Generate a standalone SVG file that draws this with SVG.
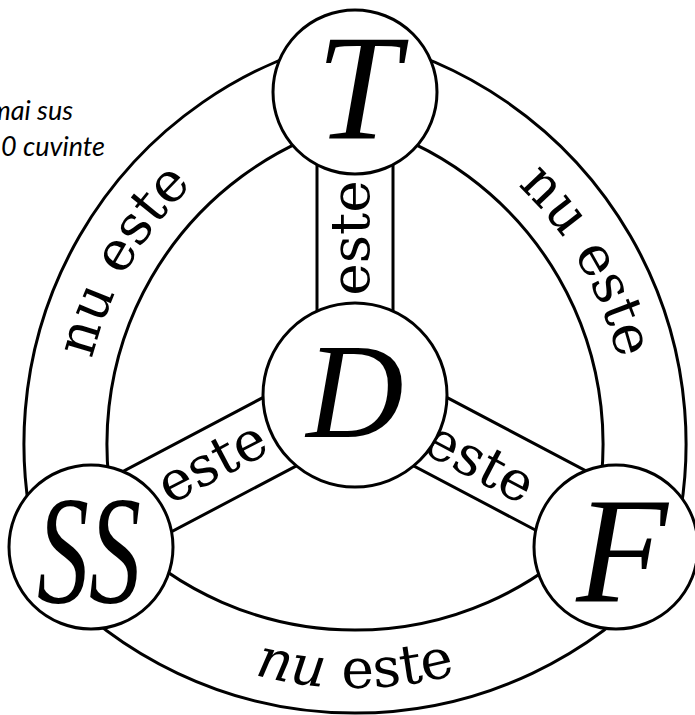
<svg xmlns="http://www.w3.org/2000/svg" width="695" height="715" viewBox="0 0 695 715">
<style>
.ln{fill:none;stroke:#000;stroke-width:3}
.sp{fill:#fff;stroke:#000;stroke-width:3}
.nd{fill:#fff;stroke:#000;stroke-width:3}
.lbl{font-family:"DejaVu Serif","Liberation Serif",serif;font-size:55px;fill:#000}
.big{font-family:"Liberation Serif","DejaVu Serif",serif;font-style:italic;fill:#000;text-anchor:middle}
.note{font-family:Lato,"Open Sans",sans-serif;font-style:italic;font-size:27px;fill:#000}
</style>
<defs>
<path id="arcL" d="M129.8,622 A357,357 0 0 1 439,86.5"/>
<path id="arcR" d="M271,86.5 A357,357 0 0 1 580.2,622"/>
<path id="arcB" d="M17.3,493 A390,390 0 0 0 692.7,493"/>
</defs>
<g id="note">
<text class="note" x="73" y="120" text-anchor="end">mai sus</text>
<text class="note" x="1" y="156">0 cuvinte</text>
</g>
<g id="connectors">
<path class="ln" d="M355,37.1 A415,415 0 0 0 45,574 A415,415 0 0 0 665,574 A415,415 0 0 0 355,37.1 Z"/>
<path class="ln" d="M355,122.3 A332,332 0 0 0 118.8,531.4 A332,332 0 0 0 591.2,531.4 A332,332 0 0 0 355,122.3 Z"/>
<rect class="sp" x="317" y="92" width="76" height="303"/>
<rect class="sp" x="0" y="-38" width="300" height="76" transform="translate(355,392) rotate(152.2)"/>
<rect class="sp" x="0" y="-38" width="300" height="76" transform="translate(355,392) rotate(27.8)"/>
<text class="lbl" text-anchor="middle"><textPath href="#arcL" startOffset="50%">nu este</textPath></text>
<text class="lbl" text-anchor="middle"><textPath href="#arcR" startOffset="50%">nu este</textPath></text>
<text class="lbl" text-anchor="middle" font-size="57"><textPath href="#arcB" startOffset="50%"><tspan font-style="italic">nu</tspan> este</textPath></text>
<text class="lbl" text-anchor="middle" transform="translate(355,238) rotate(-90)" y="14">este</text>
<text class="lbl" text-anchor="middle" transform="translate(214,466) rotate(-27.8)" y="14">este</text>
<text class="lbl" text-anchor="middle" transform="translate(478,466) rotate(27.8)" y="14">este</text>
</g>
<g id="node-T">
<circle class="nd" cx="355" cy="92" r="82"/>
<text class="big" x="358" y="138" font-size="150">T</text>
</g>
<g id="node-D">
<circle class="nd" cx="355" cy="395" r="92"/>
<text class="big" x="355" y="437" font-size="135">D</text>
</g>
<g id="node-SS">
<circle class="nd" cx="91" cy="547" r="82"/>
<text class="big" x="89" y="602" font-size="155" textLength="104" lengthAdjust="spacingAndGlyphs">SS</text>
</g>
<g id="node-F">
<circle class="nd" cx="616" cy="547" r="82"/>
<text class="big" x="622" y="601" font-size="150">F</text>
</g>
</svg>
